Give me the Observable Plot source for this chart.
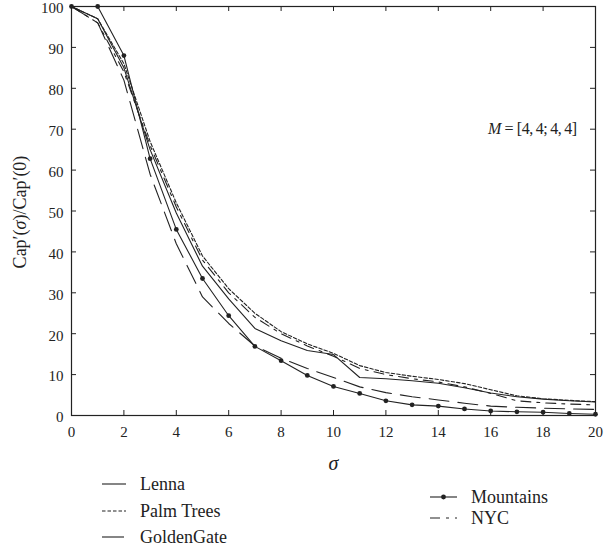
<!DOCTYPE html>
<html><head><meta charset="utf-8">
<script src="https://cdn.jsdelivr.net/npm/d3@7"></script>
<script src="https://cdn.jsdelivr.net/npm/@observablehq/plot@0.6"></script>
<style>
body{margin:0;background:#fff;}
#wrap{position:relative;width:616px;height:550px;font-family:"Liberation Serif","DejaVu Serif",serif;color:#222;}
#chart{position:absolute;left:0;top:0;}
.ylab{position:absolute;left:20px;top:212px;transform:translate(-50%,-50%) rotate(-90deg);white-space:nowrap;font-size:18px;}
.ann{position:absolute;left:488px;top:120px;white-space:nowrap;font-size:16px;letter-spacing:-0.4px;}
.leg{position:absolute;display:flex;align-items:center;font-size:18px;white-space:nowrap;}
.leg svg{margin-right:14px;}
</style></head><body><div id="wrap"><div id="chart"></div></div>
<script>
const sigma = [0,1,2,3,4,5,6,7,8,9,10,11,12,13,14,15,16,17,18,19,20];
const lenna      = [100,97,85,65,49.5,36.5,28.5,21.3,18.3,15.9,14.9,9.3,9.0,8.5,7.9,6.8,5.5,4.6,4.0,3.6,3.3];
const palmTrees  = [100,97,86,67,52,39,31,25,20.5,17.5,15.2,12.2,10.5,9.6,8.8,7.8,6.3,4.8,4.1,3.7,3.4];
const goldenGate = [100,96,82,59,42,29,22.5,17,14,11.5,9.3,7,5.6,4.6,3.8,3.0,2.3,2.0,1.8,1.6,1.5];
const mountains  = [100,100,88,62.8,45.5,33.5,24.4,16.9,13.4,9.8,7.1,5.4,3.6,2.6,2.3,1.6,1.1,0.9,0.8,0.5,0.3];
const nyc        = [100,96,84,66,51,38,30,24,20,17,14.5,11.5,10,9,8.2,7.0,5.4,3.6,3.1,2.8,2.6];

const xTicks = [0,2,4,6,8,10,12,14,16,18,20];
const yTicks = [0,10,20,30,40,50,60,70,80,90,100];

const seriesNames = ["Lenna","Palm Trees","GoldenGate","Mountains","NYC"];
const seriesValues = [lenna, palmTrees, goldenGate, mountains, nyc];
const seriesDash = [null, "3.5,2", "20,9", null, "10,6,3,6"];

const ink = "#222";
const rows = [];
seriesNames.forEach((name, k) => sigma.forEach((s, i) => rows.push({name, s, v: seriesValues[k][i]})));

const marks = [
  Plot.frame({stroke: ink, strokeWidth: 1.2}),
  Plot.ruleX(xTicks, {x: d => d, y1: 0, y2: 0, insetTop: -5, stroke: ink}),
  Plot.ruleX(xTicks, {x: d => d, y1: 100, y2: 100, insetBottom: -5, stroke: ink}),
  Plot.ruleY(yTicks, {y: d => d, x1: 0, x2: 0, insetRight: -5, stroke: ink}),
  Plot.ruleY(yTicks, {y: d => d, x1: 20, x2: 20, insetLeft: -5, stroke: ink}),
  Plot.axisX({ticks: xTicks, tickSize: 0, tickPadding: 11, label: null, fontSize: 15}),
  Plot.axisY({ticks: yTicks, tickSize: 0, tickPadding: 8, label: null, fontSize: 15, dy: 2}),
  Plot.text(["σ"], {frameAnchor: "bottom", dy: 54, fontStyle: "italic", fontSize: 20, fill: ink})
];
seriesNames.forEach((name, k) => {
  marks.push(Plot.line(rows.filter(r => r.name === name), {x: "s", y: "v", stroke: ink, strokeWidth: 1.1, strokeDasharray: seriesDash[k]}));
});
marks.push(Plot.dot(rows.filter(r => r.name === "Mountains"), {x: "s", y: "v", r: 2.4, fill: ink, stroke: null}));

const chart = Plot.plot({
  width: 616, height: 475,
  marginTop: 6, marginBottom: 60, marginLeft: 71, marginRight: 21,
  x: {domain: [0, 20]},
  y: {domain: [0, 100]},
  style: {fontFamily: '"Liberation Serif","DejaVu Serif",serif', fontSize: "15px", color: ink, background: "#fff"},
  marks
});
document.getElementById("chart").appendChild(chart);

const wrap = document.getElementById("wrap");
const yl = document.createElement("div");
yl.className = "ylab";
yl.innerHTML = "Cap′(<i>σ</i>)/Cap′(0)";
wrap.appendChild(yl);
const ann = document.createElement("div");
ann.className = "ann";
ann.innerHTML = "<i>M</i> = [4,\u20094;\u20094,\u20094]";
wrap.appendChild(ann);

// legend
const legPos = {"Lenna": [102, 484], "Palm Trees": [102, 511], "GoldenGate": [102, 537], "Mountains": [430, 497], "NYC": [430, 518]};
seriesNames.forEach((name, k) => {
  const d = document.createElement("div");
  d.className = "leg";
  const [lx, ly] = legPos[name];
  d.style.left = lx + "px";
  d.style.top = (ly - 11) + "px";
  d.style.height = "22px";
  const w = name === "Mountains" || name === "NYC" ? 27 : 24;
  let s = `<svg width="${w}" height="10"><line x1="0" y1="5" x2="${w}" y2="5" stroke="${ink}" stroke-width="1.1" ${seriesDash[k] ? `stroke-dasharray="${name === "GoldenGate" ? "22,9" : seriesDash[k]}"` : ""}/>`;
  if (name === "Mountains") s += `<circle cx="${w/2}" cy="5" r="2.4" fill="${ink}"/>`;
  s += `</svg><span>${name}</span>`;
  d.innerHTML = s;
  wrap.appendChild(d);
});
</script></body></html>
